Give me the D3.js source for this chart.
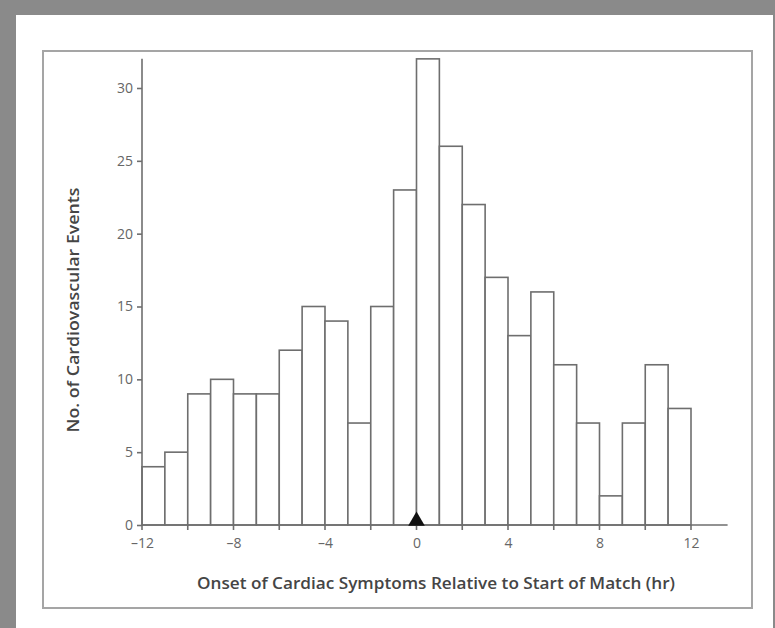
<!DOCTYPE html>
<html>
<head>
<meta charset="utf-8">
<script src="https://cdn.jsdelivr.net/npm/d3@7"></script>
<style>
  html, body { margin: 0; padding: 0; background: #8a8a8a; }
  svg { display: block; }
</style>
</head>
<body>
<div id="chart"></div>
<script>
// hour bins (start of each 1-hr bin) and counts
var binStarts = [-12, -11, -10, -9, -8, -7, -6, -5, -4, -3, -2, -1, 0, 1, 2, 3, 4, 5, 6, 7, 8, 9, 10, 11];
var counts    = [4, 5, 9, 10, 9, 9, 12, 15, 14, 7, 15, 23, 32, 26, 22, 17, 13, 16, 11, 7, 2, 7, 11, 8];
var xTickVals = [-12, -8, -4, 0, 4, 8, 12];
var xMinorTicks = [-12, -10, -8, -6, -4, -2, 0, 2, 4, 6, 8, 10, 12];
var yTickVals = [0, 5, 10, 15, 20, 25, 30];
var matchStart = [0];

var width = 775, height = 628;
var lineCol = "#6e6e6e", textCol = "#454545";
var font = "'Open Sans', 'Noto Sans', sans-serif";

var svg = d3.select("#chart").append("svg")
    .attr("width", width).attr("height", height);

// white panel + framed box
svg.append("rect").attr("x", 16).attr("y", 15).attr("width", 757).attr("height", 613).attr("fill", "#fff");
svg.append("rect").attr("x", 43).attr("y", 51).attr("width", 709).attr("height", 557)
    .attr("fill", "none").attr("stroke", "#a5a5a5").attr("stroke-width", 2);

var x = d3.scaleLinear().domain([-12, 12]).range([142, 691]);
var y = d3.scaleLinear().domain([0, 30]).range([525, 88]);

var g = svg.append("g");

// bars
g.selectAll("rect.bar").data(binStarts).enter().append("rect")
    .attr("class", "bar")
    .attr("x", function(d) { return x(d); })
    .attr("y", function(d, i) { return y(counts[i]); })
    .attr("width", function(d) { return x(d + 1) - x(d); })
    .attr("height", function(d, i) { return y(0) - y(counts[i]); })
    .attr("fill", "#fff")
    .attr("stroke", lineCol)
    .attr("stroke-width", 1.6);

// y axis
var yAxis = d3.axisLeft(y).tickValues(yTickVals).tickSize(5).tickPadding(4);
var yg = g.append("g").attr("transform", "translate(" + x(-12) + ",0)").call(yAxis);
yg.select(".domain").remove();
g.append("line").attr("x1", x(-12)).attr("x2", x(-12)).attr("y1", y(32)).attr("y2", y(0) + 1)
    .attr("stroke", lineCol).attr("stroke-width", 1.6);

// x axis
var xAxis = d3.axisBottom(x).tickValues(xTickVals).tickSize(0).tickPadding(13)
    .tickFormat(function(d) { return d < 0 ? "\u2013" + Math.abs(d) : d; });
var xg = g.append("g").attr("transform", "translate(0," + y(0) + ")").call(xAxis);
xg.select(".domain").remove();
g.append("line").attr("x1", x(-12)).attr("x2", x(13.6)).attr("y1", y(0)).attr("y2", y(0))
    .attr("stroke", lineCol).attr("stroke-width", 1.6);
g.selectAll("line.xtick").data(xMinorTicks).enter().append("line")
    .attr("class", "xtick")
    .attr("x1", function(d) { return x(d); }).attr("x2", function(d) { return x(d); })
    .attr("y1", y(0)).attr("y2", y(0) + 5)
    .attr("stroke", lineCol).attr("stroke-width", 1.6);

[yg, xg].forEach(function(ax) {
    ax.attr("font-size", 14).attr("font-family", font);
    ax.selectAll(".tick line").attr("stroke", lineCol).attr("stroke-width", 1.6);
    ax.selectAll(".tick text").attr("fill", "#666");
});

// match-start marker
g.selectAll("path.marker").data(matchStart).enter().append("path")
    .attr("class", "marker")
    .attr("transform", function(d) { return "translate(" + x(d) + "," + (y(0) - 4) + ")"; })
    .attr("d", d3.symbol().type(d3.symbolTriangle).size(120))
    .attr("fill", "#111");

// axis titles
svg.append("text")
    .attr("transform", "translate(79,310) rotate(-90)")
    .attr("text-anchor", "middle")
    .attr("fill", textCol)
    .attr("textLength", 245).attr("lengthAdjust", "spacingAndGlyphs")
    .style("font-family", font)
    .style("font-size", "16px").style("font-weight", "600")
    .text("No. of Cardiovascular Events");

svg.append("text")
    .attr("x", 436).attr("y", 589)
    .attr("text-anchor", "middle")
    .attr("fill", textCol)
    .attr("textLength", 478).attr("lengthAdjust", "spacingAndGlyphs")
    .style("font-family", font)
    .style("font-size", "16px").style("font-weight", "600")
    .text("Onset of Cardiac Symptoms Relative to Start of Match (hr)");
</script>
</body>
</html>
